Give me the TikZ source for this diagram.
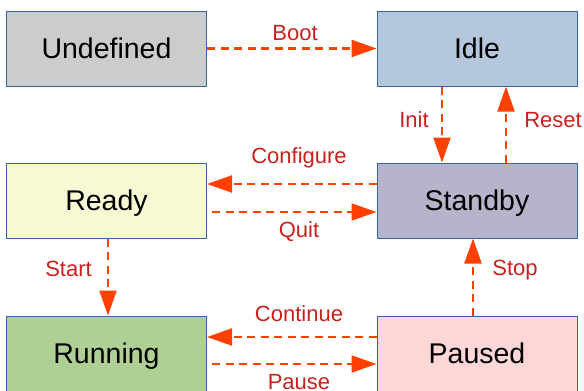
\documentclass[tikz,border=0pt]{standalone}
\usepackage{fontspec}
\setmainfont{Liberation Sans}
\usetikzlibrary{arrows.meta}
\definecolor{bordc}{HTML}{3465A4}
\definecolor{arrc}{HTML}{FF4000}
\definecolor{labc}{HTML}{C9211E}
\definecolor{fundef}{HTML}{CCCCCC}
\definecolor{fidle}{HTML}{B4C7DC}
\definecolor{fready}{HTML}{F6F9D4}
\definecolor{fstandby}{HTML}{B7B3CA}
\definecolor{frunning}{HTML}{AFD095}
\definecolor{fpaused}{HTML}{FFD7D7}
\tikzset{
  state/.style={draw=bordc, line width=1pt, minimum width=200pt, minimum height=75pt,
    inner sep=0pt, font=\fontsize{28.5}{34}\selectfont, text=black,
    text height=25.8pt, text depth=6pt},
  arr/.style={draw=arrc, line width=2.2pt, dash pattern=on 8pt off 5.5pt,
    -{Triangle[length=25pt,width=17pt]}},
  lab/.style={text=labc, font=\fontsize{22}{26}\selectfont, anchor=base, inner sep=0pt}
}
\begin{document}
\begin{tikzpicture}[x=1pt,y=-1pt]
\useasboundingbox (0,0) rectangle (584,391);
\node[state, fill=fundef]   (undef)   at (106.5,48.5)  {Undefined};
\node[state, fill=fidle]    (idle)    at (477,48.5)    {Idle};
\node[state, fill=fready]   (ready)   at (106.5,200.5) {Ready};
\node[state, fill=fstandby] (standby) at (477,200.5)   {Standby};
\node[state, fill=frunning] (running) at (106.5,353.5) {Running};
\node[state, fill=fpaused]  (paused)  at (477,353.5)   {Paused};

\draw[arr] (undef.east) -- (idle.west);
\draw[arr] ([xshift=-35pt]idle.south) -- ([xshift=-35pt]standby.north);
\draw[arr] ([xshift=29pt]standby.north) -- ([xshift=29pt]idle.south);
\draw[arr] ([yshift=16.5pt]standby.west) -- ([yshift=16.5pt]ready.east);
\draw[arr,dash phase=-5pt] ([yshift=-11.5pt]ready.east) -- ([yshift=-11.5pt]standby.west);
\draw[arr] ([xshift=1.5pt]ready.south) -- ([xshift=1.5pt]running.north);
\draw[arr] ([xshift=-4pt]paused.north) -- ([xshift=-4pt]standby.south);
\draw[arr] ([yshift=16.5pt]paused.west) -- ([yshift=16.5pt]running.east);
\draw[arr,dash phase=-5pt] ([yshift=-10.5pt]running.east) -- ([yshift=-10.5pt]paused.west);

\node[lab] (lboot)  at (295,40)    {Boot};
\node[lab] (linit)  at (414,127)   {Init};
\node[lab] (lreset) at (553,127)   {Reset};
\node[lab] (lconf)  at (299,163)   {Configure};
\node[lab] (lquit)  at (299,237)   {Quit};
\node[lab] (lstart) at (68.5,276)  {Start};
\node[lab] (lstop)  at (515,275)   {Stop};
\node[lab] (lcont)  at (299,321)   {Continue};
\node[lab] (lpause) at (299,389)   {Pause};
\end{tikzpicture}
\end{document}
